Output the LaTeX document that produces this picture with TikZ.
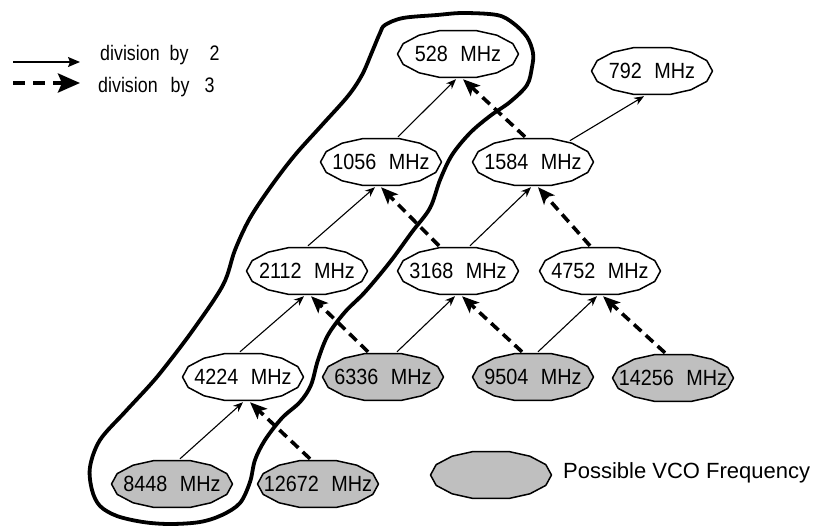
\documentclass[tikz,border=0pt]{standalone}
\usepackage{fontspec}
\setmainfont{Liberation Sans}
\newfontfamily\labelfont[FakeStretch=0.85]{Liberation Sans}
\newfontfamily\ovalfont[FakeStretch=0.9]{Liberation Sans}
\usetikzlibrary{arrows.meta,backgrounds,shapes.geometric}

\newcommand\mhz[1]{#1\hspace{12.5pt}MHz}

\tikzset{
  freq/.style={ellipse, minimum width=122pt, minimum height=50pt, inner sep=0pt,
    font=\ovalfont\fontsize{22}{24}\selectfont},
  legendtext/.style={anchor=west, inner sep=0pt, font=\labelfont\fontsize{21}{24}\selectfont},
  outline/.style={draw=black, line width=1.5pt, line join=round},
  halve/.style={-{Stealth[length=10pt,width=8pt]}, line width=1.1pt},
  third/.style={-{Stealth[length=17pt,width=14pt,inset=4pt]}, line width=3.6pt,
    dash pattern=on 10pt off 6pt},
  halvekey/.style={-{Stealth[length=12pt,width=10pt,inset=2pt]}, line width=1.2pt},
  thirdkey/.style={-{Stealth[length=22pt,width=19pt,inset=4pt]}, line width=4pt,
    dash pattern=on 12pt off 8pt},
  loopline/.style={line width=3.8pt, line join=round},
}

\begin{document}
\begin{tikzpicture}[x=1pt, y=-1pt]
\useasboundingbox (0,0) rectangle (814,525);

% frequency nodes
\node[freq] (f528)   at (458,54)  {\mhz{528}};
\node[freq] (f792)   at (652,71)  {\mhz{792}};
\node[freq] (f1056)  at (381,162) {\mhz{1056}};
\node[freq] (f1584)  at (533,162) {\mhz{1584}};
\node[freq] (f2112)  at (307,271) {\mhz{2112}};
\node[freq] (f3168)  at (458,271) {\mhz{3168}};
\node[freq] (f4752)  at (600,271) {\mhz{4752}};
\node[freq] (f4224)  at (243,377) {\mhz{4224}};
\node[freq] (f6336)  at (383,377) {\mhz{6336}};
\node[freq] (f9504)  at (533,377) {\mhz{9504}};
\node[freq] (f14256) at (673,378) {\mhz{14256}};
\node[freq] (f8448)  at (172,484) {\mhz{8448}};
\node[freq] (f12672) at (318,484) {\mhz{12672}};

% legend
\node[freq] (vco) at (491,475) {};
\node[anchor=west, inner sep=0pt, font=\fontsize{22}{24}\selectfont] (vcotext) at (563,473) {Possible VCO Frequency};
\coordinate (ltwoA) at (13,62);
\coordinate (ltwoB) at (80,62);
\coordinate (lthreeA) at (13,83);
\coordinate (lthreeB) at (80,83);
\node[legendtext] (ltwo) at (100,55) {division\hspace{10pt}by\hspace{21pt}2};
\node[legendtext] (lthree) at (98,87) {division\hspace{13pt}by\hspace{15pt}3};
\draw[halvekey] (ltwoA) -- (ltwoB);
\draw[thirdkey] (lthreeA) -- (lthreeB);

% faceted oval outlines behind the labels
\begin{scope}[on background layer]
\foreach \n/\c in {f528/white, f792/white, f1056/white, f1584/white, f2112/white,
    f3168/white, f4752/white, f4224/white, f6336/black!25, f9504/black!25,
    f14256/black!25, f8448/black!25, f12672/black!25, vco/black!25} {
  \filldraw[outline, fill=\c]
    ([shift={(60.5pt,0pt)}]\n.center) -- ([shift={(54.8pt,10.4pt)}]\n.center)
    -- ([shift={(38.9pt,18.8pt)}]\n.center) -- ([shift={(18.7pt,23.3pt)}]\n.center)
    -- ([shift={(-18.7pt,23.3pt)}]\n.center) -- ([shift={(-38.9pt,18.8pt)}]\n.center)
    -- ([shift={(-54.8pt,10.4pt)}]\n.center) -- ([shift={(-60.5pt,0pt)}]\n.center)
    -- ([shift={(-54.8pt,-10.4pt)}]\n.center) -- ([shift={(-38.9pt,-18.8pt)}]\n.center)
    -- ([shift={(-18.7pt,-23.3pt)}]\n.center) -- ([shift={(18.7pt,-23.3pt)}]\n.center)
    -- ([shift={(38.9pt,-18.8pt)}]\n.center) -- ([shift={(54.8pt,-10.4pt)}]\n.center)
    -- cycle;
}
\end{scope}

% division by 2
\draw[halve] ([xshift=17pt]f1056.north) -- ([xshift=-2pt]f528.south);
\draw[halve] (f1584.30) -- ([xshift=-8pt]f792.south);
\draw[halve] ([xshift=1pt]f2112.north) -- ([xshift=-6pt]f1056.south);
\draw[halve] ([xshift=12pt]f3168.north) -- ([xshift=-2pt]f1584.south);
\draw[halve] ([xshift=-3pt]f4224.north) -- ([xshift=-3pt]f2112.south);
\draw[halve] ([xshift=14pt]f6336.north) -- ([xshift=-3pt]f3168.south);
\draw[halve] ([xshift=5pt]f9504.north) -- ([xshift=-3pt]f4752.south);
\draw[halve] ([xshift=8pt]f8448.north) -- ([xshift=0pt]f4224.south);

% division by 3
\draw[third] ([xshift=-8pt]f1584.north) -- ([xshift=5pt]f528.south);
\draw[third] ([xshift=-19pt]f3168.north) -- ([xshift=0pt]f1056.south);
\draw[third] ([xshift=-10pt]f4752.north) -- ([xshift=5pt]f1584.south);
\draw[third] ([xshift=-15pt]f6336.north) -- ([xshift=4pt]f2112.south);
\draw[third] ([xshift=-11pt]f9504.north) -- ([xshift=4pt]f3168.south);
\draw[third] ([xshift=-8pt]f14256.north) -- ([xshift=3pt]f4752.south);
\draw[third] ([xshift=-8pt]f12672.north) -- ([xshift=7pt]f4224.south);

% hand-drawn loop round the 528 MHz chain
\draw[loopline] plot[smooth cycle, tension=0.55] coordinates {
  (385,25) (403,18) (437,15) (463,13) (497,15) (513,23) (527,37) (533,53)
  (532,67) (527,85) (510,102) (490,116) (470,133) (452,155) (440,180)
  (430,208) (412,232) (390,262) (365,292) (345,312) (328,335) (318,360)
  (311,385) (300,402) (282,418) (265,440) (255,460) (250,482) (240,503)
  (222,515) (200,522) (170,524) (143,522) (117,516) (100,506) (92,490)
  (90,467) (100,440) (125,412) (150,385) (165,367) (193,330) (223,285)
  (235,250) (250,218) (272,185) (295,155) (322,125) (348,96) (362,75)
  (372,52) (380,33)};
\end{tikzpicture}
\end{document}
